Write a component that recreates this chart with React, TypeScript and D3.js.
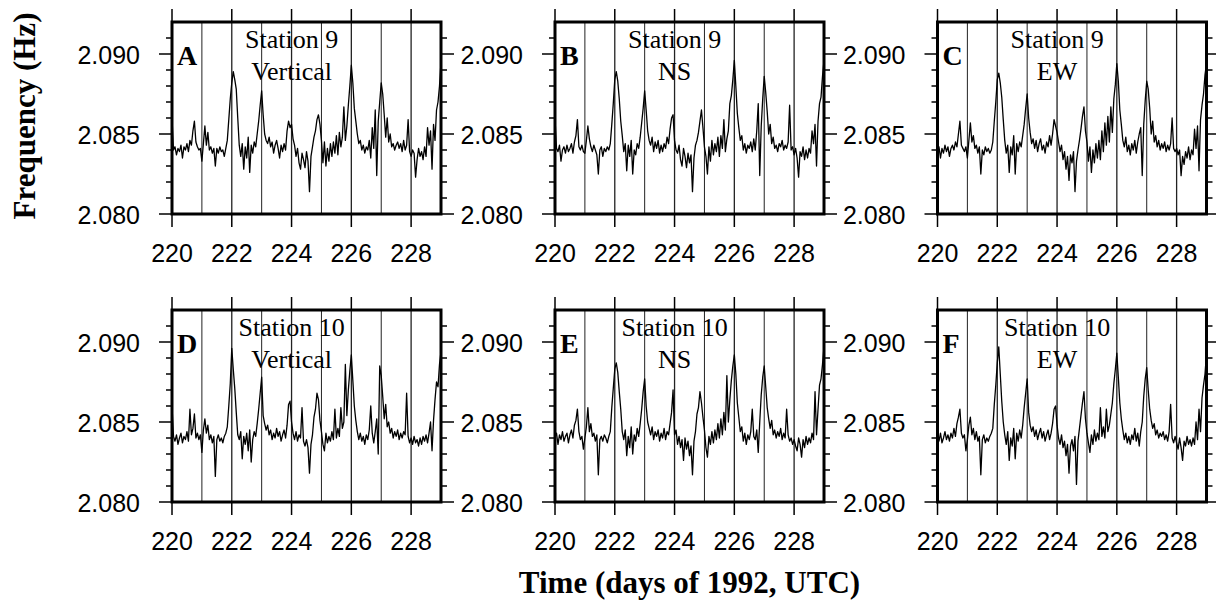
import React from "react";
import * as d3 from "d3";

// sampling of every trace: one value every 0.05 day from day 220 to day 229
const DAY_START = 220;
const DAY_END = 229;
const DAY_STEP = 0.05;
const FREQ_MIN = 2.08;
const FREQ_MAX = 2.092;

const X_MAJOR = [220, 222, 224, 226, 228];
const X_GRID = [221, 222, 223, 224, 225, 226, 227, 228];
const Y_MAJOR = [2.08, 2.085, 2.09];
const Y_MINOR = [2.081, 2.082, 2.083, 2.084, 2.086, 2.087, 2.088, 2.089, 2.091];

const LETTERS = ["A", "B", "C", "D", "E", "F"];
const STATIONS = ["Station 9", "Station 9", "Station 9", "Station 10", "Station 10", "Station 10"];
const COMPONENTS = ["Vertical", "NS", "EW", "Vertical", "NS", "EW"];

// Station 9, vertical
const freqA = [
  2.0860, 2.0840, 2.0842, 2.0837, 2.0841, 2.0839, 2.0843, 2.0835, 2.0842, 2.0840, 2.0844, 2.0839, 2.0846, 2.0843, 2.0852, 2.0858, 2.0845, 2.0842, 2.0840, 2.0841,
  2.0833, 2.0844, 2.0855, 2.0843, 2.0851, 2.0840, 2.0842, 2.0838, 2.0841, 2.0830, 2.0841, 2.0838, 2.0842, 2.0839, 2.0840, 2.0836, 2.0841, 2.0846, 2.0859, 2.0872,
  2.0882, 2.0889, 2.0884, 2.0878, 2.0860, 2.0843, 2.0836, 2.0844, 2.0828, 2.0842, 2.0835, 2.0848, 2.0826, 2.0843, 2.0838, 2.0845, 2.0842, 2.0850, 2.0858, 2.0868,
  2.0877, 2.0862, 2.0850, 2.0846, 2.0844, 2.0848, 2.0842, 2.0845, 2.0838, 2.0843, 2.0846, 2.0841, 2.0835, 2.0843, 2.0839, 2.0844, 2.0840, 2.0852, 2.0858, 2.0854,
  2.0856, 2.0847, 2.0843, 2.0836, 2.0841, 2.0832, 2.0828, 2.0838, 2.0834, 2.0829, 2.0839, 2.0833, 2.0814, 2.0836, 2.0842, 2.0848, 2.0852, 2.0859, 2.0862, 2.0856,
  2.0846, 2.0832, 2.0845, 2.0830, 2.0841, 2.0833, 2.0844, 2.0836, 2.0845, 2.0838, 2.0849, 2.0837, 2.0851, 2.0842, 2.0848, 2.0867, 2.0846, 2.0855, 2.0868, 2.0880,
  2.0893, 2.0882, 2.0866, 2.0858, 2.0850, 2.0844, 2.0846, 2.0840, 2.0843, 2.0838, 2.0842, 2.0840, 2.0846, 2.0835, 2.0854, 2.0841, 2.0865, 2.0824, 2.0858, 2.0870,
  2.0882, 2.0875, 2.0862, 2.0848, 2.0860, 2.0845, 2.0850, 2.0842, 2.0844, 2.0840, 2.0843, 2.0845, 2.0841, 2.0844, 2.0839, 2.0846, 2.0840, 2.0843, 2.0859, 2.0839,
  2.0836, 2.0840, 2.0838, 2.0823, 2.0834, 2.0841, 2.0836, 2.0839, 2.0834, 2.0842, 2.0836, 2.0854, 2.0843, 2.0852, 2.0828, 2.0856, 2.0846, 2.0865, 2.0870, 2.0880,
  2.0895,
];

// Station 9, NS
const freqB = [
  2.0860, 2.0841, 2.0839, 2.0843, 2.0833, 2.0840, 2.0842, 2.0838, 2.0843, 2.0839, 2.0841, 2.0844, 2.0838, 2.0845, 2.0849, 2.0859, 2.0842, 2.0840, 2.0843, 2.0839,
  2.0838, 2.0846, 2.0855, 2.0847, 2.0842, 2.0839, 2.0843, 2.0840, 2.0837, 2.0825, 2.0840, 2.0842, 2.0836, 2.0841, 2.0839, 2.0842, 2.0840, 2.0844, 2.0856, 2.0869,
  2.0884, 2.0889, 2.0883, 2.0872, 2.0858, 2.0849, 2.0839, 2.0844, 2.0827, 2.0843, 2.0836, 2.0846, 2.0825, 2.0840, 2.0837, 2.0844, 2.0841, 2.0848, 2.0857, 2.0866,
  2.0877, 2.0865, 2.0852, 2.0846, 2.0843, 2.0848, 2.0839, 2.0845, 2.0841, 2.0846, 2.0838, 2.0843, 2.0839, 2.0844, 2.0841, 2.0848, 2.0844, 2.0853, 2.0860, 2.0862,
  2.0846, 2.0840, 2.0838, 2.0843, 2.0834, 2.0830, 2.0841, 2.0836, 2.0829, 2.0838, 2.0832, 2.0837, 2.0814, 2.0835, 2.0843, 2.0846, 2.0851, 2.0858, 2.0865, 2.0854,
  2.0842, 2.0836, 2.0825, 2.0842, 2.0833, 2.0846, 2.0837, 2.0844, 2.0839, 2.0848, 2.0836, 2.0849, 2.0841, 2.0859, 2.0839, 2.0847, 2.0852, 2.0869, 2.0874, 2.0884,
  2.0896, 2.0880, 2.0863, 2.0854, 2.0846, 2.0849, 2.0840, 2.0844, 2.0838, 2.0843, 2.0841, 2.0845, 2.0839, 2.0847, 2.0840, 2.0852, 2.0869, 2.0824, 2.0855, 2.0872,
  2.0886, 2.0876, 2.0864, 2.0850, 2.0856, 2.0844, 2.0848, 2.0841, 2.0843, 2.0839, 2.0844, 2.0842, 2.0846, 2.0840, 2.0843, 2.0841, 2.0845, 2.0868, 2.0840, 2.0842,
  2.0837, 2.0841, 2.0835, 2.0823, 2.0839, 2.0836, 2.0842, 2.0834, 2.0840, 2.0835, 2.0841, 2.0838, 2.0852, 2.0844, 2.0856, 2.0830, 2.0858, 2.0869, 2.0873, 2.0886,
  2.0896,
];

// Station 9, EW
const freqC = [
  2.0840, 2.0842, 2.0835, 2.0841, 2.0838, 2.0843, 2.0839, 2.0842, 2.0836, 2.0841, 2.0843, 2.0840, 2.0845, 2.0842, 2.0850, 2.0858, 2.0843, 2.0841, 2.0839, 2.0842,
  2.0835, 2.0846, 2.0857, 2.0845, 2.0849, 2.0841, 2.0843, 2.0838, 2.0842, 2.0825, 2.0840, 2.0837, 2.0842, 2.0839, 2.0841, 2.0838, 2.0840, 2.0845, 2.0858, 2.0870,
  2.0884, 2.0888, 2.0882, 2.0873, 2.0859, 2.0846, 2.0838, 2.0843, 2.0826, 2.0842, 2.0837, 2.0849, 2.0825, 2.0844, 2.0839, 2.0845, 2.0842, 2.0849, 2.0856, 2.0866,
  2.0875, 2.0860, 2.0851, 2.0844, 2.0847, 2.0841, 2.0846, 2.0839, 2.0844, 2.0847, 2.0840, 2.0843, 2.0838, 2.0845, 2.0842, 2.0849, 2.0843, 2.0850, 2.0859, 2.0855,
  2.0851, 2.0845, 2.0839, 2.0843, 2.0834, 2.0839, 2.0828, 2.0836, 2.0821, 2.0837, 2.0832, 2.0839, 2.0814, 2.0833, 2.0840, 2.0846, 2.0853, 2.0861, 2.0867, 2.0852,
  2.0845, 2.0833, 2.0842, 2.0826, 2.0840, 2.0832, 2.0844, 2.0835, 2.0846, 2.0834, 2.0852, 2.0839, 2.0857, 2.0843, 2.0861, 2.0845, 2.0867, 2.0851, 2.0872, 2.0881,
  2.0894, 2.0883, 2.0865, 2.0856, 2.0846, 2.0842, 2.0848, 2.0839, 2.0843, 2.0837, 2.0844, 2.0840, 2.0846, 2.0838, 2.0845, 2.0850, 2.0854, 2.0824, 2.0856, 2.0871,
  2.0883, 2.0878, 2.0866, 2.0850, 2.0858, 2.0845, 2.0849, 2.0842, 2.0846, 2.0840, 2.0844, 2.0841, 2.0845, 2.0839, 2.0843, 2.0840, 2.0844, 2.0860, 2.0841, 2.0839,
  2.0841, 2.0837, 2.0840, 2.0824, 2.0836, 2.0831, 2.0839, 2.0835, 2.0842, 2.0834, 2.0840, 2.0837, 2.0853, 2.0841, 2.0855, 2.0827, 2.0859, 2.0868, 2.0875, 2.0887,
  2.0894,
];

// Station 10, vertical
const freqD = [
  2.0860, 2.0841, 2.0838, 2.0842, 2.0836, 2.0840, 2.0843, 2.0837, 2.0841, 2.0839, 2.0844, 2.0838, 2.0858, 2.0842, 2.0846, 2.0855, 2.0840, 2.0843, 2.0839, 2.0842,
  2.0831, 2.0845, 2.0852, 2.0843, 2.0848, 2.0839, 2.0842, 2.0837, 2.0841, 2.0816, 2.0839, 2.0842, 2.0838, 2.0840, 2.0837, 2.0841, 2.0843, 2.0847, 2.0860, 2.0874,
  2.0896, 2.0883, 2.0871, 2.0856, 2.0842, 2.0839, 2.0844, 2.0827, 2.0841, 2.0836, 2.0843, 2.0832, 2.0845, 2.0825, 2.0839, 2.0844, 2.0841, 2.0849, 2.0858, 2.0868,
  2.0878, 2.0854, 2.0849, 2.0845, 2.0848, 2.0842, 2.0845, 2.0839, 2.0843, 2.0840, 2.0846, 2.0841, 2.0844, 2.0838, 2.0842, 2.0845, 2.0840, 2.0848, 2.0861, 2.0863,
  2.0850, 2.0843, 2.0839, 2.0844, 2.0838, 2.0842, 2.0840, 2.0859, 2.0838, 2.0835, 2.0839, 2.0834, 2.0818, 2.0836, 2.0842, 2.0853, 2.0858, 2.0868, 2.0864, 2.0851,
  2.0844, 2.0836, 2.0832, 2.0843, 2.0837, 2.0841, 2.0838, 2.0844, 2.0839, 2.0858, 2.0840, 2.0846, 2.0841, 2.0859, 2.0846, 2.0850, 2.0886, 2.0854, 2.0870, 2.0882,
  2.0892, 2.0876, 2.0860, 2.0851, 2.0844, 2.0839, 2.0843, 2.0838, 2.0841, 2.0836, 2.0842, 2.0839, 2.0845, 2.0860, 2.0843, 2.0837, 2.0844, 2.0852, 2.0830, 2.0885,
  2.0879, 2.0866, 2.0852, 2.0861, 2.0847, 2.0850, 2.0843, 2.0846, 2.0840, 2.0844, 2.0841, 2.0845, 2.0839, 2.0843, 2.0840, 2.0844, 2.0842, 2.0868, 2.0841, 2.0837,
  2.0840, 2.0836, 2.0841, 2.0837, 2.0839, 2.0835, 2.0840, 2.0836, 2.0841, 2.0838, 2.0842, 2.0837, 2.0843, 2.0850, 2.0832, 2.0851, 2.0864, 2.0875, 2.0872, 2.0886,
  2.0894,
];

// Station 10, NS
const freqE = [
  2.0841, 2.0843, 2.0836, 2.0842, 2.0839, 2.0844, 2.0838, 2.0841, 2.0843, 2.0837, 2.0842, 2.0845, 2.0840, 2.0848, 2.0851, 2.0858, 2.0844, 2.0839, 2.0841, 2.0833,
  2.0840, 2.0847, 2.0859, 2.0844, 2.0849, 2.0841, 2.0843, 2.0838, 2.0842, 2.0817, 2.0839, 2.0841, 2.0838, 2.0842, 2.0840, 2.0837, 2.0841, 2.0844, 2.0859, 2.0871,
  2.0883, 2.0887, 2.0881, 2.0869, 2.0858, 2.0844, 2.0839, 2.0845, 2.0829, 2.0841, 2.0834, 2.0847, 2.0830, 2.0842, 2.0838, 2.0846, 2.0841, 2.0849, 2.0858, 2.0869,
  2.0877, 2.0860, 2.0850, 2.0846, 2.0842, 2.0847, 2.0839, 2.0844, 2.0841, 2.0845, 2.0838, 2.0843, 2.0840, 2.0846, 2.0839, 2.0844, 2.0842, 2.0849, 2.0856, 2.0870,
  2.0842, 2.0845, 2.0836, 2.0841, 2.0834, 2.0839, 2.0826, 2.0840, 2.0833, 2.0838, 2.0829, 2.0835, 2.0817, 2.0838, 2.0844, 2.0855, 2.0859, 2.0869, 2.0862, 2.0853,
  2.0845, 2.0834, 2.0828, 2.0841, 2.0836, 2.0844, 2.0837, 2.0845, 2.0839, 2.0849, 2.0840, 2.0852, 2.0842, 2.0856, 2.0845, 2.0879, 2.0850, 2.0864, 2.0876, 2.0885,
  2.0892, 2.0880, 2.0862, 2.0853, 2.0844, 2.0847, 2.0838, 2.0843, 2.0836, 2.0842, 2.0839, 2.0844, 2.0858, 2.0841, 2.0839, 2.0845, 2.0831, 2.0850, 2.0867, 2.0878,
  2.0885, 2.0872, 2.0859, 2.0852, 2.0846, 2.0851, 2.0842, 2.0845, 2.0840, 2.0844, 2.0841, 2.0846, 2.0839, 2.0843, 2.0840, 2.0858, 2.0842, 2.0838, 2.0840, 2.0836,
  2.0839, 2.0835, 2.0832, 2.0840, 2.0836, 2.0828, 2.0839, 2.0834, 2.0841, 2.0836, 2.0840, 2.0837, 2.0843, 2.0839, 2.0869, 2.0842, 2.0858, 2.0873, 2.0877, 2.0886,
  2.0897,
];

// Station 10, EW
const freqF = [
  2.0842, 2.0838, 2.0843, 2.0837, 2.0840, 2.0844, 2.0839, 2.0842, 2.0838, 2.0843, 2.0840, 2.0846, 2.0841, 2.0849, 2.0853, 2.0858, 2.0843, 2.0840, 2.0842, 2.0832,
  2.0839, 2.0848, 2.0853, 2.0842, 2.0846, 2.0839, 2.0844, 2.0838, 2.0841, 2.0817, 2.0839, 2.0842, 2.0837, 2.0840, 2.0838, 2.0841, 2.0843, 2.0846, 2.0861, 2.0873,
  2.0887, 2.0897, 2.0880, 2.0863, 2.0850, 2.0842, 2.0836, 2.0844, 2.0826, 2.0840, 2.0835, 2.0846, 2.0827, 2.0843, 2.0838, 2.0845, 2.0840, 2.0848, 2.0859, 2.0868,
  2.0877, 2.0856, 2.0848, 2.0844, 2.0847, 2.0841, 2.0845, 2.0839, 2.0843, 2.0846, 2.0840, 2.0844, 2.0838, 2.0842, 2.0845, 2.0839, 2.0843, 2.0849, 2.0858, 2.0860,
  2.0848, 2.0840, 2.0836, 2.0842, 2.0834, 2.0838, 2.0829, 2.0836, 2.0818, 2.0835, 2.0839, 2.0832, 2.0841, 2.0811, 2.0838, 2.0846, 2.0854, 2.0862, 2.0869, 2.0852,
  2.0843, 2.0837, 2.0831, 2.0842, 2.0836, 2.0845, 2.0838, 2.0843, 2.0839, 2.0859, 2.0841, 2.0847, 2.0840, 2.0858, 2.0844, 2.0848, 2.0855, 2.0862, 2.0874, 2.0883,
  2.0893, 2.0878, 2.0862, 2.0852, 2.0845, 2.0839, 2.0843, 2.0837, 2.0841, 2.0836, 2.0842, 2.0839, 2.0846, 2.0838, 2.0843, 2.0835, 2.0844, 2.0850, 2.0866, 2.0877,
  2.0884, 2.0870, 2.0858, 2.0851, 2.0846, 2.0849, 2.0842, 2.0845, 2.0840, 2.0843, 2.0841, 2.0844, 2.0839, 2.0842, 2.0838, 2.0844, 2.0861, 2.0840, 2.0837, 2.0841,
  2.0837, 2.0833, 2.0840, 2.0834, 2.0826, 2.0838, 2.0835, 2.0841, 2.0836, 2.0839, 2.0835, 2.0840, 2.0836, 2.0850, 2.0839, 2.0858, 2.0844, 2.0865, 2.0873, 2.0880,
  2.0893,
];

const SERIES = [freqA, freqB, freqC, freqD, freqE, freqF];

const width = 1216;
const height = 601;
const colX = [172, 555, 937.5];
const rowY = [22, 310];
const panelW = 269;
const panelH = 192;

const serif = "'Liberation Serif', 'Times New Roman', serif";
const sans = "'Liberation Sans', Arial, sans-serif";
const fmt = d3.format(".3f");

const x = d3.scaleLinear().domain([DAY_START, DAY_END]).range([0, panelW]);
const y = d3.scaleLinear().domain([FREQ_MIN, FREQ_MAX]).range([panelH, 0]);

const line = d3.line<number>()
  .x((_, i) => x(DAY_START + i * DAY_STEP))
  .y(d => y(d));

function Panel({ idx }: { idx: number }) {
  const px = colX[idx % 3];
  const py = rowY[Math.floor(idx / 3)];
  const clipId = `clip-${idx}`;
  return (
    <g transform={`translate(${px},${py})`}>
      <defs>
        <clipPath id={clipId}>
          <rect x={0} y={0} width={panelW} height={panelH} />
        </clipPath>
      </defs>
      {X_GRID.map(d => (
        <line key={`g${d}`} x1={x(d)} x2={x(d)} y1={0} y2={panelH}
          stroke="#222" strokeWidth={d % 2 === 0 ? 1.3 : 1} />
      ))}
      <path d={line(SERIES[idx]) ?? ""} fill="none" stroke="#000" strokeWidth={1.3}
        strokeLinejoin="round" clipPath={`url(#${clipId})`} />
      <text x={5} y={43} fontFamily={serif} fontWeight="bold" fontSize={28}>{LETTERS[idx]}</text>
      <text x={x(224)} y={26} textAnchor="middle" fontFamily={serif} fontSize={26}>{STATIONS[idx]}</text>
      <text x={x(224)} y={58} textAnchor="middle" fontFamily={serif} fontSize={26}>{COMPONENTS[idx]}</text>
      <rect x={0} y={0} width={panelW} height={panelH} fill="none" stroke="#000" strokeWidth={3} />
      {Y_MAJOR.map(v => (
        <g key={`ym${v}`}>
          <line x1={-13} x2={0} y1={y(v)} y2={y(v)} stroke="#000" strokeWidth={1.5} />
          <line x1={panelW} x2={panelW + 13} y1={y(v)} y2={y(v)} stroke="#000" strokeWidth={1.5} />
          <text x={-32} y={y(v) + 10} textAnchor="end" fontFamily={sans} fontSize={25}>{fmt(v)}</text>
        </g>
      ))}
      {Y_MINOR.map(v => (
        <g key={`yn${v}`}>
          <line x1={-6} x2={0} y1={y(v)} y2={y(v)} stroke="#000" strokeWidth={1.5} />
          <line x1={panelW} x2={panelW + 6} y1={y(v)} y2={y(v)} stroke="#000" strokeWidth={1.5} />
        </g>
      ))}
      {X_MAJOR.map(d => (
        <g key={`xm${d}`}>
          <line x1={x(d)} x2={x(d)} y1={-13} y2={0} stroke="#000" strokeWidth={1.5} />
          <line x1={x(d)} x2={x(d)} y1={panelH} y2={panelH + 13} stroke="#000" strokeWidth={1.5} />
          <text x={x(d)} y={panelH + 48} textAnchor="middle" fontFamily={sans} fontSize={25}>{d}</text>
        </g>
      ))}
    </g>
  );
}

export default function App() {
  return (
    <svg width={width} height={height} viewBox={`0 0 ${width} ${height}`}
      style={{ position: "absolute", left: 0, top: 0, background: "#fff" }}>
      <rect width={width} height={height} fill="#fff" />
      {SERIES.map((_, i) => <Panel key={i} idx={i} />)}
      <text transform={`translate(35,${rowY[0] + panelH / 2 - 2}) rotate(-90)`} textAnchor="middle"
        fontFamily={serif} fontWeight="bold" fontSize={31}>Frequency (Hz)</text>
      <text x={colX[1] + panelW / 2} y={593} textAnchor="middle"
        fontFamily={serif} fontWeight="bold" fontSize={31}>Time (days of 1992, UTC)</text>
    </svg>
  );
}
